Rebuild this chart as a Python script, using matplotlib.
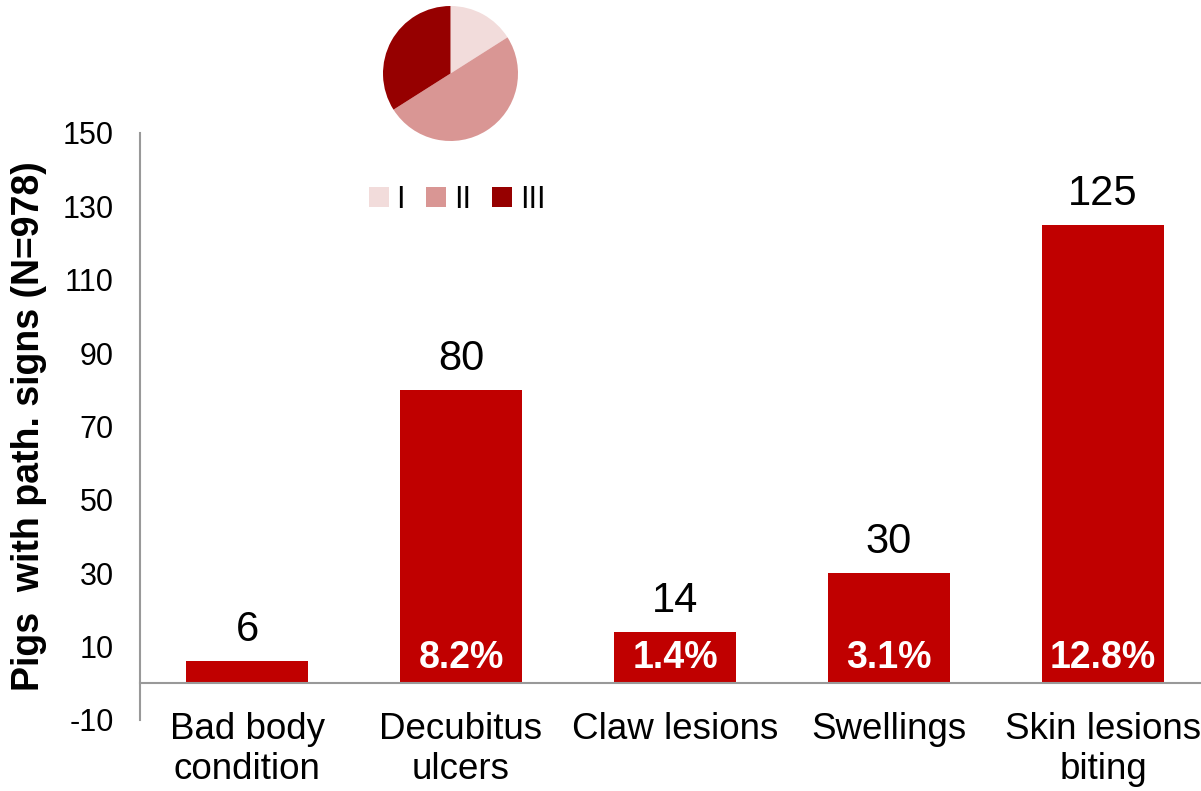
import matplotlib.pyplot as plt
import matplotlib.transforms as mtransforms
from matplotlib.patches import Patch

plt.rcParams["font.family"] = ["Liberation Sans", "DejaVu Sans"]
plt.rcParams["axes.unicode_minus"] = False

CATEGORIES = ["Bad body\ncondition", "Decubitus\nulcers", "Claw lesions",
              "Swellings", "Skin lesions\nbiting"]
COUNTS = [6, 80, 14, 30, 125]
PERCENTS = [None, "8.2%", "1.4%", "3.1%", "12.8%"]

PIE_LABELS = ["I", "II", "III"]
PIE_SHARES = [16, 50, 34]
PIE_COLORS = ["#F2DCDB", "#D99694", "#960000"]

BAR_COLOR = "#C00000"
AXIS_GREY = "#999999"

fig = plt.figure(figsize=(12.01, 7.91), dpi=100)
ax = fig.add_axes([0.1166, 0.0898, 0.8909, 0.7421])

x = list(range(len(CATEGORIES)))
ax.bar(x, COUNTS, width=0.566, color=BAR_COLOR, zorder=2)

for xi, v in zip(x, COUNTS):
    ax.annotate(str(v), xy=(xi, v), xytext=(0, 8), textcoords="offset points",
                ha="center", va="bottom", fontsize=30)
for xi, p in zip(x, PERCENTS):
    if p:
        ax.text(xi, 4.2, p, ha="center", va="baseline", fontsize=27,
                fontweight="bold", color="white", zorder=3)

ax.set_xlim(-0.5, 4.5)
ax.set_ylim(-10, 150)
ax.set_yticks(range(-10, 151, 20))
ax.tick_params(axis="y", length=0, labelsize=22, pad=19)
ax.set_xticks([])

# category labels sit just above the bottom of the axes, below the zero line
trans = mtransforms.blended_transform_factory(ax.transData, ax.transAxes)
for xi, lab in zip(x, CATEGORIES):
    ax.text(xi, 0.014, lab, transform=trans, ha="center", va="top",
            fontsize=26.5, linespacing=1.2)

for s in ["top", "right"]:
    ax.spines[s].set_visible(False)
ax.spines["left"].set_color(AXIS_GREY)
ax.spines["left"].set_linewidth(1.5)
ax.spines["bottom"].set_position(("data", 0))
ax.spines["bottom"].set_color(AXIS_GREY)
ax.spines["bottom"].set_linewidth(1.5)

ax.set_ylabel("Pigs  with path. signs (N=978)", fontsize=27, fontweight="bold")
ax.yaxis.set_label_coords(-0.087, 0.5)

# inset pie
pax = fig.add_axes([383 / 1201, 1 - 141 / 791, 135 / 1201, 135 / 791])
pax.pie(PIE_SHARES, colors=PIE_COLORS, startangle=90, counterclock=False)
pax.set_xlim(-1, 1)
pax.set_ylim(-1, 1)
pax.set_aspect("equal")

handles = [Patch(facecolor=c, edgecolor="none") for c in PIE_COLORS]
fig.legend(handles, PIE_LABELS, loc="center", bbox_to_anchor=(457 / 1201, 1 - 200 / 791),
           ncol=3, frameon=False, fontsize=22, handlelength=0.65, handleheight=0.65,
           handletextpad=0.25, columnspacing=0.7)

fig.savefig("out.png", dpi=100)
